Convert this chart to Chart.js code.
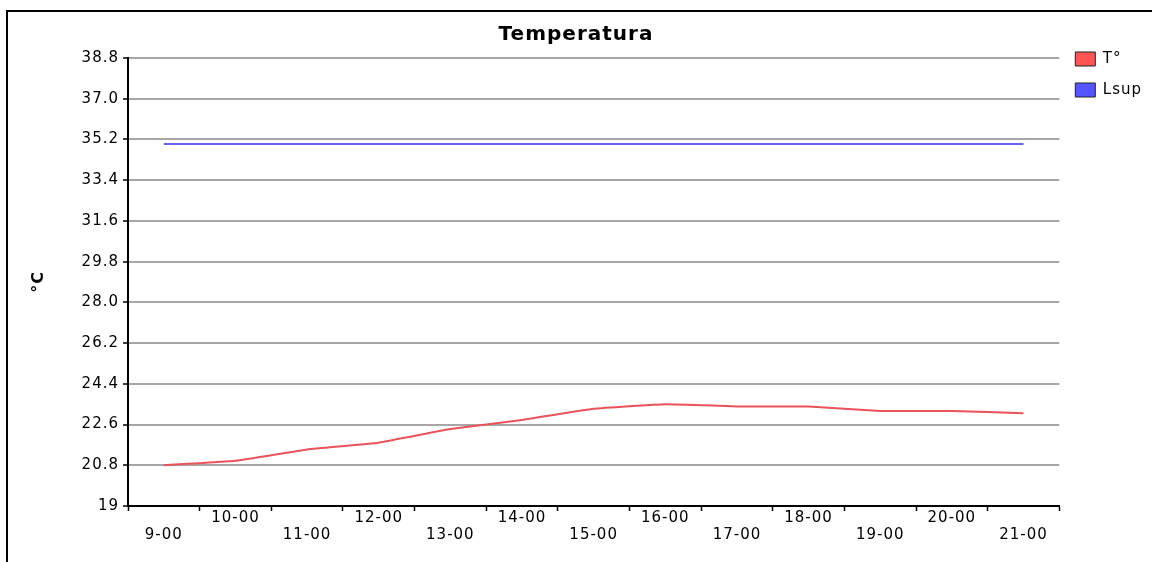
<!DOCTYPE html>
<html>
<head>
<meta charset="utf-8">
<title>Temperatura</title>
<script src="https://cdn.jsdelivr.net/npm/chart.js@4.4.1/dist/chart.umd.min.js"></script>
<style>
  html, body { margin: 0; padding: 0; background: #fff; overflow: hidden; }
  #wrap { position: relative; width: 1152px; height: 562px; overflow: hidden; }
  #frame { position: absolute; left: 6px; top: 10px; width: 1200px; height: 600px;
           border-left: 2px solid #000; border-top: 2px solid #000; pointer-events: none; }
</style>
</head>
<body>
<div id="wrap">
  <canvas id="tempChart"></canvas>
  <div id="frame"></div>
</div>
<script>
const hours = ['9-00', '10-00', '11-00', '12-00', '13-00', '14-00', '15-00',
               '16-00', '17-00', '18-00', '19-00', '20-00', '21-00'];
const temperature = [20.8, 21.0, 21.5, 21.8, 22.4, 22.8, 23.3, 23.5, 23.4, 23.4, 23.2, 23.2, 23.1];
const upperLimit = [35.0, 35.0, 35.0, 35.0, 35.0, 35.0, 35.0, 35.0, 35.0, 35.0, 35.0, 35.0, 35.0];
const yTickValues = [19, 20.8, 22.6, 24.4, 26.2, 28.0, 29.8, 31.6, 33.4, 35.2, 37.0, 38.8];
const yTickLabels = ['19', '20.8', '22.6', '24.4', '26.2', '28.0', '29.8', '31.6', '33.4', '35.2', '37.0', '38.8'];

const FONT = 'DejaVu Sans';

// the old chart draws its text a bit spaced out
const spacing = {
    id: 'spacing',
    beforeLayout(chart) { chart.ctx.letterSpacing = '1px'; },
    beforeDraw(chart) { chart.ctx.letterSpacing = '1px'; }
};

function legendLabels(chart) {
    return Chart.defaults.plugins.legend.labels.generateLabels(chart).map(item => {
        item.strokeStyle = '#222';
        item.lineWidth = 1;
        return item;
    });
}

const ctx = document.getElementById('tempChart').getContext('2d');
const chart = new Chart(ctx, {
    type: 'line',
    data: {
        labels: hours,
        datasets: [{
            label: 'T°',
            data: temperature,
            borderColor: '#e9535a',
            backgroundColor: '#ff5555',
            borderWidth: 2,
            pointRadius: 0,
            tension: 0.1
        }, {
            label: 'Lsup',
            data: upperLimit,
            borderColor: '#6464ee',
            backgroundColor: '#5555ff',
            borderWidth: 2,
            pointRadius: 0
        }]
    },
    options: {
        responsive: true,
        maintainAspectRatio: false,
        animation: false,
        layout: { padding: 0 },
        plugins: {
            title: {
                display: true,
                text: 'Temperatura',
                color: '#000',
                font: { family: FONT, size: 20, weight: 'bold', lineHeight: 1.2 },
                padding: { top: 23, bottom: 11 }
            },
            legend: {
                position: 'right',
                align: 'start',
                title: { display: true, text: ' ', font: { size: 12, lineHeight: 1 }, padding: { top: 23.5, bottom: 0 } },
                labels: {
                    boxWidth: 20,
                    boxHeight: 14,
                    padding: 16,
                    color: '#000',
                    font: { family: FONT, size: 15 },
                    generateLabels: legendLabels
                }
            },
            tooltip: { enabled: false }
        },
        scales: {
            x: {
                offset: true,
                grid: { offset: true, drawOnChartArea: false, tickLength: 5, tickColor: '#000', tickWidth: 1.5 },
                border: { color: '#000', width: 2 },
                ticks: {
                    autoSkip: false,
                    maxRotation: 0,
                    padding: -2,
                    color: '#000',
                    font: { family: FONT, size: 15, lineHeight: 1.17 },
                    callback: (v, i) => i % 2 === 0 ? ['', hours[i]] : [hours[i], '']
                },
                afterFit: s => { s.height = 56; }
            },
            y: {
                min: 19,
                max: 38.8,
                afterBuildTicks: s => { s.ticks = yTickValues.map(v => ({ value: v })); },
                grid: { color: '#a6a6a6', lineWidth: 2, tickColor: '#000', tickLength: 5, tickWidth: 1.5 },
                border: { color: '#000', width: 2 },
                ticks: {
                    padding: 4,
                    color: '#000',
                    font: { family: FONT, size: 15 },
                    callback: (v, i) => yTickLabels[i]
                },
                title: {
                    display: true,
                    text: '°C',
                    color: '#000',
                    font: { family: FONT, size: 16, weight: 'bold' },
                    padding: { top: 29, bottom: 0 }
                },
                afterFit: s => { s.width = 128; }
            }
        }
    },
    plugins: [spacing]
});
</script>
</body>
</html>
